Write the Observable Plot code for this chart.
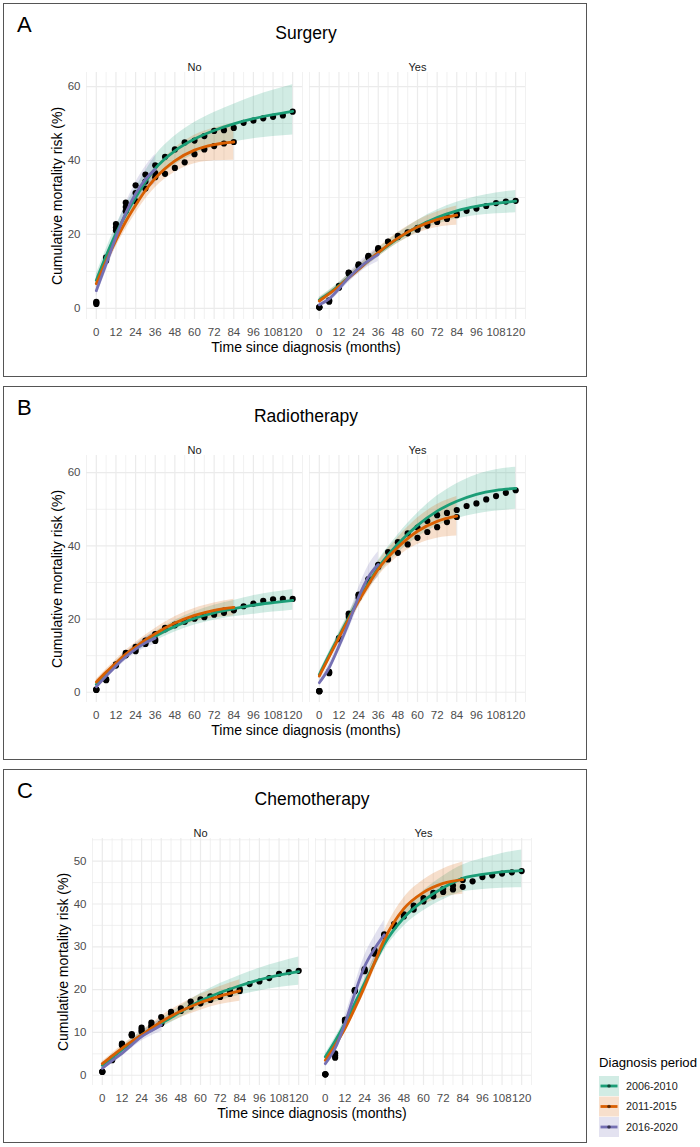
<!DOCTYPE html>
<html>
<head>
<meta charset="utf-8">
<script src="https://cdn.jsdelivr.net/npm/d3@7"></script>
<script src="https://cdn.jsdelivr.net/npm/@observablehq/plot@0.6"></script>
<style>
  body { margin: 0; background: #fff; font-family: "Liberation Sans", Arial, sans-serif; }
  #page { position: relative; width: 700px; height: 1147px; overflow: hidden; background: #fff; }
  .box { position: absolute; left: 3px; width: 584px; height: 374px; box-sizing: border-box; border: 1.5px solid #555; }
  .tag { position: absolute; left: 17px; font-size: 22px; line-height: 22px; color: #000; }
  .title { position: absolute; font-size: 17.5px; line-height: 17.5px; color: #000; transform: translateX(-50%); white-space: nowrap; }
  .xlab { position: absolute; font-size: 14px; line-height: 14px; color: #000; transform: translateX(-50%); white-space: nowrap; }
  .ylab { position: absolute; font-size: 14px; line-height: 14px; color: #000; white-space: nowrap; transform: translate(-50%, -50%) rotate(-90deg); }
  .chart { position: absolute; left: 0; }
</style>
</head>
<body>
<div id="page"></div>
<script>
// Diagnosis periods and their colours
const periods = ["2006-2010", "2011-2015", "2016-2020"];
const periodColors = ["#1B9E77", "#D95F02", "#7570B3"];
const facetNames = ["No", "Yes"];

// Months at which the fitted curves and their intervals are given
const fitMonths = [0, 6, 12, 18, 24, 30, 36, 48, 60, 72, 84, 96, 108, 120];
// Months of the observed estimates
const obsMonths = [0, 6, 12, 18, 24, 30, 36, 42, 48, 54, 60, 66, 72, 78, 84, 90, 96, 102, 108, 114, 120];

// Axis ticks and grid lines
const xTicks = [0, 12, 24, 36, 48, 60, 72, 84, 96, 108, 120];
const xMinor = [-6, 6, 18, 30, 42, 54, 66, 78, 90, 102, 114, 126];
const yTicksRisk = [0, 20, 40, 60];
const yMinorRisk = [10, 30, 50];
const yTicksChemo = [0, 10, 20, 30, 40, 50];
const yMinorChemo = [5, 15, 25, 35, 45, 55];

// ---- Surgery: No ----
const surgeryNoFit = [
  [7.6, 14.2, 20.2, 25.4, 30.0, 34.2, 37.8, 42.6, 45.8, 48.1, 49.9, 51.3, 52.4, 53.3],
  [6.7, 12.8, 18.4, 23.5, 27.9, 31.9, 35.2, 39.9, 42.8, 44.3, 45.0],
  [4.8, 12.0, 19.3, 25.8, 31.0, 34.9, 37.6]
];
const surgeryNoLow = [
  [6.0, 12.5, 18.2, 23.2, 27.6, 31.4, 34.5, 38.8, 41.6, 43.6, 45.0, 45.9, 46.5, 46.9],
  [5.2, 11.2, 16.6, 21.4, 25.7, 29.5, 32.6, 36.8, 39.1, 39.9, 40.1],
  [3.2, 10.1, 17.0, 23.3, 28.1, 31.6, 33.7]
];
const surgeryNoHigh = [
  [9.3, 16.0, 22.3, 27.8, 32.6, 37.1, 41.2, 46.6, 50.3, 53.0, 55.2, 57.3, 59.0, 60.5],
  [8.3, 14.5, 20.3, 25.7, 30.3, 34.5, 38.0, 43.3, 46.8, 48.8, 50.1],
  [6.6, 14.0, 21.7, 28.4, 34.0, 38.3, 41.6]
];
const surgeryNoObs = [
  [1.8, 13.8, 22.8, 28.6, 33.3, 36.2, 38.7, 41.0, 43.0, 44.9, 45.4, 46.6, 48.0, 48.2, 48.8, 50.2, 50.8, 51.4, 51.8, 52.2, 53.2],
  [1.2, 12.9, 21.1, 26.3, 29.0, 32.4, 35.5, 36.4, 38.0, 39.5, 41.7, 43.0, 43.9, 44.6, 45.0],
  [1.5, 13.3, 21.9, 27.4, 31.2, 34.3, 36.6]
];

// ---- Surgery: Yes ----
const surgeryYesFit = [
  [2.3, 4.1, 6.2, 8.4, 10.7, 12.9, 15.0, 18.9, 22.1, 24.6, 26.4, 27.6, 28.4, 29.0],
  [2.0, 3.9, 6.0, 8.3, 10.6, 12.9, 15.1, 19.0, 22.0, 24.0, 25.2],
  [1.0, 2.6, 5.3, 8.3, 10.8, 12.9, 14.6]
];
const surgeryYesLow = [
  [1.6, 3.4, 5.4, 7.6, 9.8, 11.9, 13.9, 17.6, 20.6, 22.8, 24.2, 25.1, 25.6, 25.9],
  [1.3, 3.2, 5.2, 7.4, 9.6, 11.8, 13.9, 17.6, 20.3, 21.9, 22.5],
  [0.3, 1.7, 4.2, 7.1, 9.4, 11.3, 12.7]
];
const surgeryYesHigh = [
  [3.0, 4.9, 7.0, 9.3, 11.7, 14.0, 16.2, 20.3, 23.8, 26.6, 28.7, 30.2, 31.2, 31.9],
  [2.8, 4.7, 6.9, 9.3, 11.7, 14.1, 16.4, 20.5, 23.8, 26.1, 27.7],
  [1.8, 3.6, 6.5, 9.6, 12.3, 14.6, 16.6]
];
const surgeryYesObs = [
  [0.3, 2.2, 5.8, 9.6, 11.9, 14.0, 16.3, 18.1, 19.6, 20.6, 21.8, 22.9, 23.9, 24.8, 25.6, 26.4, 27.0, 27.7, 28.5, 28.9, 29.1],
  [0.3, 2.0, 6.1, 9.4, 11.6, 14.2, 16.0, 18.0, 19.3, 20.3, 21.3, 22.4, 23.4, 24.2, 25.2],
  [0.3, 1.8, 5.6, 9.7, 11.5, 13.8, 15.9]
];

// ---- Radiotherapy: No ----
const radioNoFit = [
  [2.1, 4.9, 7.6, 9.9, 11.9, 13.7, 15.3, 18.0, 20.2, 21.7, 22.8, 23.8, 24.5, 25.1],
  [2.8, 5.5, 8.0, 10.4, 12.4, 14.3, 16.0, 18.9, 21.0, 22.4, 23.2],
  [1.5, 4.4, 7.2, 9.7, 11.8, 13.5, 14.8]
];
const radioNoLow = [
  [1.5, 4.2, 6.8, 9.0, 10.9, 12.5, 14.0, 16.5, 18.4, 19.7, 20.6, 21.3, 21.9, 22.4],
  [2.1, 4.7, 7.1, 9.4, 11.3, 13.1, 14.6, 17.3, 19.2, 20.3, 20.9],
  [0.9, 3.6, 6.3, 8.7, 10.6, 12.1, 13.1]
];
const radioNoHigh = [
  [2.8, 5.6, 8.4, 10.8, 13.0, 14.9, 16.6, 19.6, 22.0, 23.8, 25.1, 26.4, 27.3, 28.1],
  [3.5, 6.3, 8.9, 11.4, 13.6, 15.6, 17.4, 20.6, 22.9, 24.4, 25.4],
  [2.2, 5.2, 8.2, 10.8, 13.1, 15.0, 16.6]
];
const radioNoObs = [
  [0.7, 3.6, 7.6, 10.8, 12.4, 14.1, 15.9, 17.6, 18.5, 19.3, 20.1, 20.5, 21.2, 21.7, 22.6, 23.5, 24.2, 25.0, 25.4, 25.5, 25.5],
  [0.7, 3.3, 7.3, 10.1, 11.2, 13.5, 14.4, 17.2, 18.3, 19.4, 20.3, 20.9, 21.7, 22.3, 22.4],
  [0.7, 3.4, 7.5, 10.4, 11.8, 13.2, 14.0]
];

// ---- Radiotherapy: Yes ----
const radioYesFit = [
  [4.8, 10.2, 15.3, 20.4, 25.3, 29.8, 34.0, 40.5, 45.6, 49.5, 52.2, 54.1, 55.2, 55.7],
  [4.4, 9.7, 14.9, 20.0, 24.9, 29.4, 33.6, 39.6, 44.0, 46.7, 48.1],
  [2.6, 6.7, 12.6, 19.0, 26.0, 31.5, 34.9]
];
const radioYesLow = [
  [4.0, 9.3, 14.2, 19.1, 23.8, 28.1, 32.0, 38.0, 42.3, 45.4, 47.4, 48.7, 49.5, 50.0],
  [3.6, 8.8, 13.8, 18.7, 23.4, 27.7, 31.6, 37.0, 40.4, 42.1, 42.7],
  [1.8, 5.6, 11.1, 17.1, 23.5, 28.4, 31.4]
];
const radioYesHigh = [
  [5.6, 11.1, 16.4, 21.7, 26.8, 31.5, 36.0, 43.0, 48.9, 53.6, 57.0, 59.4, 60.8, 61.5],
  [5.2, 10.6, 16.0, 21.3, 26.4, 31.1, 35.6, 42.2, 47.6, 51.3, 53.5],
  [3.4, 7.8, 14.1, 20.9, 28.5, 34.6, 38.4]
];
const radioYesObs = [
  [0.3, 5.5, 14.8, 21.2, 26.7, 30.8, 34.6, 38.3, 41.0, 43.4, 45.0, 46.8, 48.4, 49.0, 49.8, 50.9, 51.6, 52.7, 53.6, 54.5, 55.2],
  [0.3, 5.2, 14.5, 20.6, 25.8, 30.4, 34.2, 36.3, 38.1, 40.4, 42.2, 43.8, 45.1, 46.5, 47.9],
  [0.3, 5.6, 14.6, 21.5, 26.5, 30.9, 34.8]
];

// ---- Chemotherapy: No ----
const chemoNoFit = [
  [2.3, 4.1, 5.9, 7.7, 9.4, 10.8, 12.1, 14.8, 17.4, 19.3, 20.9, 22.3, 23.4, 24.2],
  [2.7, 4.5, 6.3, 7.9, 9.4, 11.0, 12.5, 15.0, 17.0, 18.5, 19.7],
  [1.6, 3.4, 5.1, 7.1, 9.0, 10.4, 11.7]
];
const chemoNoLow = [
  [1.8, 3.5, 5.3, 7.0, 8.6, 9.9, 11.1, 13.5, 15.8, 17.4, 18.7, 19.7, 20.5, 21.0],
  [2.2, 3.9, 5.6, 7.2, 8.6, 10.0, 11.3, 13.5, 15.2, 16.5, 17.3],
  [1.1, 2.8, 4.4, 6.3, 8.0, 9.2, 10.2]
];
const chemoNoHigh = [
  [2.8, 4.7, 6.6, 8.5, 10.3, 11.8, 13.2, 16.2, 19.1, 21.4, 23.3, 25.0, 26.4, 27.6],
  [3.2, 5.1, 7.0, 8.7, 10.3, 12.0, 13.8, 16.6, 18.9, 20.7, 22.3],
  [2.1, 4.0, 5.9, 8.0, 10.1, 11.7, 13.3]
];
const chemoNoObs = [
  [0.8, 3.9, 7.4, 9.6, 11.1, 12.3, 13.6, 14.8, 15.6, 17.2, 17.7, 18.4, 18.8, 19.7, 20.1, 21.3, 21.9, 22.7, 23.7, 24.1, 24.4],
  [0.8, 3.7, 7.2, 9.3, 10.2, 11.7, 12.1, 14.4, 15.0, 16.0, 16.8, 17.6, 18.3, 19.0, 19.7],
  [0.8, 3.5, 7.0, 9.4, 10.6, 11.2, 12.0]
];

// ---- Chemotherapy: Yes ----
const chemoYesFit = [
  [4.3, 8.0, 12.1, 16.8, 21.5, 26.2, 30.6, 36.8, 40.8, 43.8, 46.0, 46.9, 47.5, 47.8],
  [3.5, 7.0, 10.9, 15.6, 20.7, 26.2, 31.6, 38.9, 42.7, 44.8, 45.7],
  [2.7, 6.3, 12.1, 19.1, 25.4, 29.5, 32.8]
];
const chemoYesLow = [
  [3.6, 7.2, 11.2, 15.8, 20.3, 24.9, 29.1, 34.8, 38.4, 41.0, 42.8, 43.4, 43.7, 43.8],
  [2.8, 6.1, 9.9, 14.4, 19.3, 24.6, 29.7, 36.3, 39.8, 41.6, 42.3],
  [1.9, 5.2, 10.6, 17.2, 23.0, 26.7, 29.5]
];
const chemoYesHigh = [
  [5.0, 8.8, 13.0, 17.8, 22.7, 27.6, 32.1, 38.8, 43.1, 46.5, 49.1, 50.6, 51.8, 52.6],
  [4.3, 7.9, 12.0, 16.9, 22.2, 27.9, 33.6, 41.4, 45.6, 48.2, 49.8],
  [3.6, 7.5, 13.7, 21.1, 27.9, 32.4, 36.2]
];
const chemoYesObs = [
  [0.2, 4.1, 13.0, 19.9, 24.5, 28.4, 32.6, 34.8, 37.1, 38.7, 40.6, 41.8, 42.8, 43.4, 44.0, 45.3, 46.3, 46.7, 47.1, 47.4, 47.7],
  [0.2, 4.6, 12.8, 19.6, 24.3, 29.3, 32.9, 35.3, 37.6, 39.6, 41.4, 42.6, 43.5, 44.3, 45.6],
  [0.2, 5.1, 12.5, 19.8, 24.8, 29.0, 32.5]
];

const FONT = "'Liberation Sans', Arial, Helvetica, sans-serif";
const page = document.getElementById("page");

function addDiv(cls, text, css) {
  const el = document.createElement("div");
  el.className = cls;
  el.textContent = text;
  Object.assign(el.style, css);
  page.appendChild(el);
  return el;
}

// Long tables for one facet: fitted curve with interval, and observed estimates
function fitTable(facet, fit, low, high) {
  const rows = [];
  periods.forEach((period, i) => {
    fit[i].forEach((v, j) => rows.push({facet, period, month: fitMonths[j], fit: v, lo: low[i][j], hi: high[i][j]}));
  });
  return rows;
}
function obsTable(facet, obs) {
  const rows = [];
  periods.forEach((period, i) => {
    obs[i].forEach((v, j) => rows.push({facet, period, month: obsMonths[j], value: v}));
  });
  return rows;
}

function drawPanel(cfg) {
  const {dx, dy} = cfg;
  addDiv("box", "", {top: (3 + dy) + "px"});
  addDiv("tag", cfg.tag, {top: (14 + dy) + "px"});
  addDiv("title", cfg.title, {top: (25.2 + dy) + "px", left: (306 + dx) + "px"});
  addDiv("xlab", "Time since diagnosis (months)", {top: (340.2 + dy) + "px", left: (306 + dx) + "px"});
  addDiv("ylab", "Cumulative mortality risk (%)", {top: (195.5 + dy) + "px", left: (57 + dx) + "px"});

  const fits = [
    ...fitTable("No", cfg.noFit, cfg.noLow, cfg.noHigh),
    ...fitTable("Yes", cfg.yesFit, cfg.yesLow, cfg.yesHigh)
  ];
  const obs = [...obsTable("No", cfg.noObs), ...obsTable("Yes", cfg.yesObs)];

  const chart = Plot.plot({
    width: 587,
    height: 305,
    marginTop: 32,
    marginBottom: 26,
    marginLeft: 86 + dx,
    marginRight: 61 - dx,
    style: {fontFamily: FONT, fontSize: "11.5px", background: "transparent", overflow: "visible"},
    fx: {domain: facetNames, paddingInner: 0.031, paddingOuter: 0, axis: null, label: null},
    x: {domain: [-6, 126]},
    y: {domain: cfg.yDomain},
    color: {domain: periods, range: periodColors},
    marks: [
      Plot.ruleX(xMinor, {stroke: "#EBEBEB", strokeWidth: 0.7}),
      Plot.ruleX(xTicks, {stroke: "#EBEBEB", strokeWidth: 1.2}),
      Plot.ruleY(cfg.yMinor, {stroke: "#EBEBEB", strokeWidth: 0.7}),
      Plot.ruleY(cfg.yTicks, {stroke: "#EBEBEB", strokeWidth: 1.2}),
      Plot.areaY(fits, {x: "month", y1: "lo", y2: "hi", fx: "facet", z: "period", fill: "period", fillOpacity: 0.2, curve: "monotone-x"}),
      Plot.dot(obs, {x: "month", y: "value", fx: "facet", r: 3.1, fill: "#000"}),
      Plot.line(fits, {x: "month", y: "fit", fx: "facet", z: "period", stroke: "period", strokeWidth: 2.8, curve: "monotone-x"}),
      Plot.text(facetNames, {fx: d => d, text: d => d, frameAnchor: "top", dy: -9.5, fontSize: 11, fill: "#1A1A1A"}),
      Plot.axisX(xTicks, {tickSize: 0, tickPadding: 8, label: null, fontSize: 11.5, color: "#4D4D4D"}),
      Plot.axisY(cfg.yTicks, {tickSize: 0, tickPadding: 6, label: null, fontSize: 11.5, color: "#4D4D4D"})
    ]
  });
  chart.classList.add("chart");
  chart.style.top = (40 + dy) + "px";
  page.appendChild(chart);
}

drawPanel({
  tag: "A", title: "Surgery", dx: 0, dy: 0,
  yDomain: [-3.0, 63.8], yTicks: yTicksRisk, yMinor: yMinorRisk,
  noFit: surgeryNoFit, noLow: surgeryNoLow, noHigh: surgeryNoHigh, noObs: surgeryNoObs,
  yesFit: surgeryYesFit, yesLow: surgeryYesLow, yesHigh: surgeryYesHigh, yesObs: surgeryYesObs
});
drawPanel({
  tag: "B", title: "Radiotherapy", dx: 0, dy: 383,
  yDomain: [-2.8, 64.7], yTicks: yTicksRisk, yMinor: yMinorRisk,
  noFit: radioNoFit, noLow: radioNoLow, noHigh: radioNoHigh, noObs: radioNoObs,
  yesFit: radioYesFit, yesLow: radioYesLow, yesHigh: radioYesHigh, yesObs: radioYesObs
});
drawPanel({
  tag: "C", title: "Chemotherapy", dx: 6, dy: 766,
  yDomain: [-2.4, 55.3], yTicks: yTicksChemo, yMinor: yMinorChemo,
  noFit: chemoNoFit, noLow: chemoNoLow, noHigh: chemoNoHigh, noObs: chemoNoObs,
  yesFit: chemoYesFit, yesLow: chemoYesLow, yesHigh: chemoYesHigh, yesObs: chemoYesObs
});

// Legend for the diagnosis periods
const legend = d3.create("svg")
  .attr("width", 110).attr("height", 110)
  .style("position", "absolute").style("left", "590px").style("top", "1040px")
  .style("font-family", FONT);
legend.append("text").attr("x", 9).attr("y", 27).attr("font-size", 13.5)
  .attr("textLength", 98).attr("lengthAdjust", "spacingAndGlyphs")
  .attr("fill", "#000").text("Diagnosis period");
const keyTops = [36, 56.5, 77];
periods.forEach((period, i) => {
  const g = legend.append("g").attr("transform", `translate(9,${keyTops[i]})`);
  g.append("rect").attr("width", 20).attr("height", 20).attr("fill", periodColors[i]).attr("fill-opacity", 0.2);
  g.append("line").attr("x1", 1.5).attr("x2", 18.5).attr("y1", 10).attr("y2", 10)
    .attr("stroke", periodColors[i]).attr("stroke-width", 2.8);
  g.append("circle").attr("cx", 10).attr("cy", 10).attr("r", 1.8).attr("fill", "#000").attr("fill-opacity", 0.55);
  g.append("text").attr("x", 27).attr("y", 13.9).attr("font-size", 10.8).attr("fill", "#1A1A1A").text(period);
});
page.appendChild(legend.node());
</script>
</body>
</html>
